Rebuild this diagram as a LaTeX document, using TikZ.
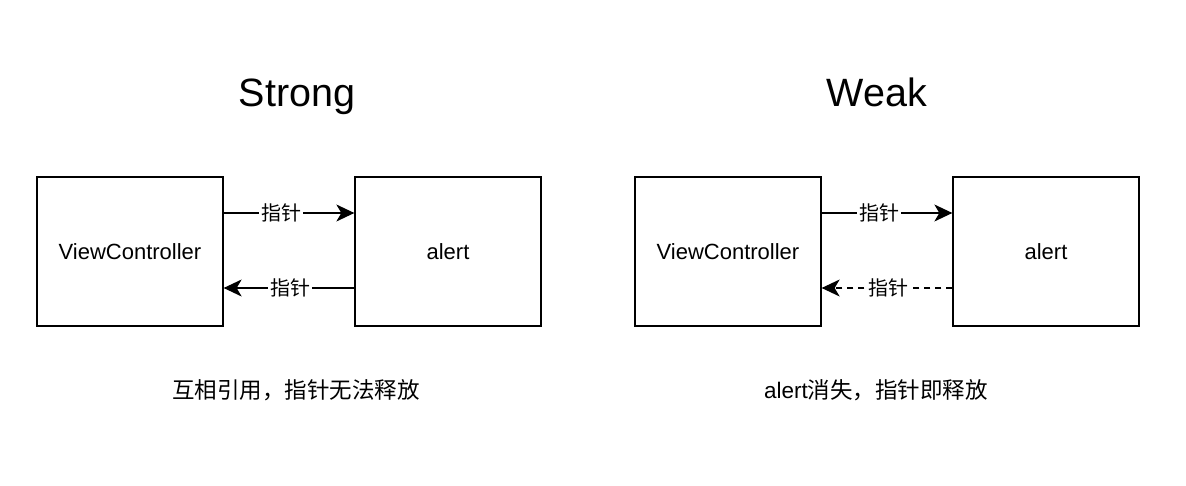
\documentclass[tikz,border=0pt]{standalone}
\usepackage{fontspec}
\setmainfont{Liberation Sans}
\newfontfamily\cjk{Noto Sans CJK SC}
\usetikzlibrary{arrows.meta}
\begin{document}
\begin{tikzpicture}[x=1pt,y=-1pt,
  box/.style={draw,line width=1.3pt,minimum width=186pt,minimum height=149pt,inner sep=0pt,font=\fontsize{22}{26}\selectfont},
  conn/.style={line width=1.3pt,-{Stealth[length=18pt,width=17pt,inset=5pt]}},
  lbl/.style={fill=white,inner sep=2pt,font=\cjk\fontsize{20}{24}\selectfont},
  titletext/.style={anchor=base,font=\fontsize{39.5}{46}\selectfont},
  captext/.style={anchor=base,font=\fontsize{22.5}{26}\selectfont}]
\useasboundingbox (0,0) rectangle (1186,486);
% left
\node[titletext] (t1) at (297,107) {Strong};
\node[box] (vc1) at (130,251.5) {ViewController};
\node[box] (al1) at (448,251.5) {alert};
\coordinate (a1s) at (vc1.east |- 0,213);
\coordinate (a1e) at (al1.west |- 0,213);
\coordinate (b1s) at (al1.west |- 0,288);
\coordinate (b1e) at (vc1.east |- 0,288);
\draw[conn] (a1s) -- node[lbl,pos=0.44] (l1) {指针} (a1e);
\draw[conn] (b1s) -- node[lbl,pos=0.49] (l2) {指针} (b1e);
\node[captext] (c1) at (296,398) {\cjk 互相引用，指针无法释放};
% right
\node[titletext] (t2) at (877,107) {Weak};
\node[box] (vc2) at (728,251.5) {ViewController};
\node[box] (al2) at (1046,251.5) {alert};
\coordinate (a2s) at (vc2.east |- 0,213);
\coordinate (a2e) at (al2.west |- 0,213);
\coordinate (b2s) at (al2.west |- 0,288);
\coordinate (b2e) at (vc2.east |- 0,288);
\draw[conn] (a2s) -- node[lbl,pos=0.44] (l3) {指针} (a2e);
\draw[conn,dash pattern=on 6pt off 5pt] (b2s) -- node[lbl,pos=0.49] (l4) {指针} (b2e);
\node[captext] (c2) at (876,398) {alert{\cjk 消失，指针即释放}};
\end{tikzpicture}
\end{document}
